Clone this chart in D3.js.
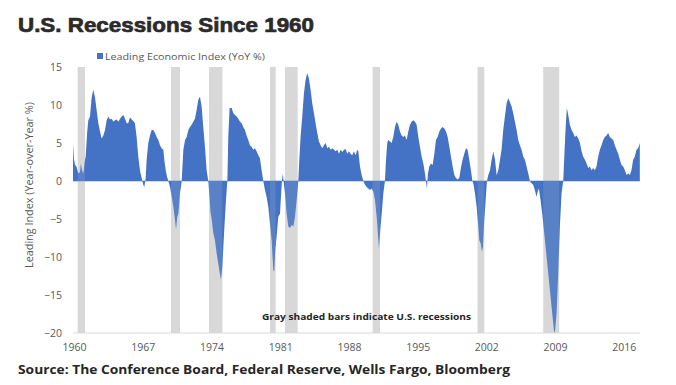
<!DOCTYPE html>
<html>
<head>
<meta charset="utf-8">
<script src="https://cdn.jsdelivr.net/npm/d3@7"></script>
<style>
  html, body { margin: 0; padding: 0; background: #fff; }
  svg { display: block; }
</style>
</head>
<body>
<svg id="chart" width="676" height="385"></svg>
<script>
// ---- Data ----
const years = [
  1960.00,1960.10,1960.22,1960.35,1960.54,1960.71,1960.80,1960.92,1961.05,1961.22,1961.29,1961.45,1961.56,1961.73,1961.90,
  1962.07,1962.24,1962.41,1962.58,1962.75,1962.92,1963.09,1963.26,1963.43,1963.60,1963.77,1963.94,1964.11,1964.28,1964.45,
  1964.62,1964.79,1964.96,1965.13,1965.30,1965.47,1965.63,1965.80,1965.97,1966.14,1966.31,1966.48,1966.65,1966.82,1966.99,
  1967.16,1967.26,1967.40,1967.50,1967.67,1967.84,1968.01,1968.18,1968.35,1968.52,1968.69,1968.86,1969.03,1969.20,1969.30,
  1969.44,1969.57,1969.71,1969.88,1970.05,1970.22,1970.39,1970.49,1970.62,1970.73,1970.90,1971.07,1971.24,1971.41,1971.58,
  1971.75,1971.91,1972.08,1972.25,1972.42,1972.59,1972.76,1972.93,1973.10,1973.27,1973.44,1973.61,1973.78,1973.90,1974.00,
  1974.12,1974.29,1974.46,1974.63,1974.90,1975.07,1975.21,1975.38,1975.58,1975.72,1975.82,1975.95,1976.16,1976.33,1976.50,
  1976.67,1976.84,1977.01,1977.17,1977.34,1977.51,1977.68,1977.85,1978.02,1978.19,1978.36,1978.53,1978.70,1978.87,1979.04,
  1979.21,1979.38,1979.55,1979.72,1979.89,1980.06,1980.23,1980.40,1980.50,1980.60,1980.74,1980.91,1981.08,1981.18,1981.28,
  1981.38,1981.45,1981.59,1981.76,1981.93,1982.10,1982.27,1982.44,1982.61,1982.78,1982.95,1983.05,1983.18,1983.35,1983.52,
  1983.69,1983.86,1984.03,1984.20,1984.37,1984.54,1984.71,1984.88,1985.05,1985.22,1985.39,1985.56,1985.73,1985.90,1986.07,
  1986.24,1986.41,1986.58,1986.75,1986.92,1987.09,1987.26,1987.43,1987.60,1987.77,1987.93,1988.10,1988.27,1988.44,1988.61,
  1988.78,1988.95,1989.06,1989.23,1989.40,1989.57,1989.74,1989.91,1990.08,1990.25,1990.42,1990.59,1990.76,1990.93,1991.10,
  1991.16,1991.27,1991.44,1991.61,1991.77,1991.88,1992.01,1992.11,1992.28,1992.45,1992.62,1992.79,1992.96,1993.13,1993.30,
  1993.47,1993.64,1993.81,1993.98,1994.15,1994.32,1994.49,1994.66,1994.83,1995.00,1995.17,1995.34,1995.51,1995.68,1995.85,
  1995.95,1996.05,1996.15,1996.29,1996.46,1996.63,1996.80,1996.97,1997.14,1997.31,1997.48,1997.65,1997.82,1997.99,1998.16,
  1998.33,1998.50,1998.67,1998.84,1999.01,1999.17,1999.34,1999.51,1999.68,1999.85,2000.02,2000.19,2000.36,2000.53,2000.67,
  2000.80,2000.94,2001.11,2001.28,2001.38,2001.52,2001.65,2001.75,2001.89,2002.03,2002.16,2002.30,2002.47,2002.64,2002.81,
  2002.98,2003.15,2003.32,2003.49,2003.65,2003.82,2003.99,2004.16,2004.33,2004.50,2004.67,2004.84,2005.01,2005.18,2005.35,
  2005.52,2005.69,2005.86,2006.03,2006.20,2006.37,2006.53,2006.70,2006.87,2007.04,2007.21,2007.32,2007.45,2007.62,2007.79,
  2007.96,2008.13,2008.30,2008.47,2008.64,2008.81,2008.98,2009.08,2009.25,2009.42,2009.59,2009.76,2009.93,2010.10,2010.20,
  2010.30,2010.44,2010.61,2010.78,2010.95,2011.12,2011.29,2011.46,2011.63,2011.80,2011.97,2012.14,2012.31,2012.48,2012.64,
  2012.81,2012.98,2013.15,2013.32,2013.49,2013.66,2013.83,2014.00,2014.17,2014.34,2014.51,2014.68,2014.85,2015.02,2015.19,
  2015.36,2015.53,2015.70,2015.87,2016.04,2016.21,2016.38,2016.55,2016.72,2016.88,2017.05,2017.22,2017.39,2017.56,2017.73
];
const leiYoY = [
  5.0,2.8,2.1,1.9,1.0,1.2,2.3,1.4,1.0,2.8,3.2,6.5,8.0,8.5,11.0,
  12.0,11.0,9.3,7.6,6.5,5.6,6.0,6.7,8.0,8.5,8.1,8.2,7.8,8.0,8.1,
  7.8,8.2,8.5,8.7,8.2,7.6,7.6,8.4,8.1,7.9,7.6,5.8,3.2,1.4,0.4,
  -0.5,-0.8,0.3,2.8,5.0,6.0,6.7,6.7,6.3,5.8,5.4,4.7,4.3,4.1,2.8,
  1.4,0.6,0.0,-0.8,-2.0,-3.4,-5.1,-6.4,-4.7,-4.3,-1.6,0.0,4.1,5.4,5.8,
  6.7,7.1,7.4,7.8,8.2,9.3,10.7,11.1,9.8,7.1,4.5,1.4,0.0,-2.0,-4.0,
  -5.0,-6.8,-7.8,-9.5,-11.7,-13.0,-11.3,-7.0,-2.5,0.0,6.0,9.6,9.6,8.9,8.7,
  8.5,8.2,7.8,7.6,7.1,6.7,6.0,5.4,4.7,4.5,4.1,4.3,3.9,3.4,3.0,
  1.4,0.0,-1.2,-2.1,-3.4,-5.6,-7.8,-11.7,-11.9,-9.1,-7.3,-4.7,-4.3,-2.1,0.0,
  1.0,0.0,-1.6,-4.3,-6.0,-6.2,-5.8,-6.0,-4.7,-2.5,0.0,2.8,5.8,8.5,11.5,
  13.3,14.2,13.5,12.0,10.2,8.9,7.6,6.3,5.2,4.7,4.3,4.7,5.0,4.3,4.5,
  4.1,4.3,4.1,3.9,4.1,3.6,4.1,3.8,4.1,4.2,3.6,3.9,3.6,3.4,3.9,
  3.4,4.1,3.9,1.9,0.8,0.0,-0.5,-0.8,-1.0,-1.2,-1.0,-1.4,-2.5,-4.7,-7.8,
  -8.9,-6.9,-4.3,-1.6,0.0,2.8,5.0,5.4,5.2,5.0,5.8,7.1,7.8,7.4,6.5,
  6.0,5.8,6.0,5.4,6.5,7.4,7.8,8.0,7.8,7.4,5.8,4.5,3.2,2.3,1.0,
  0.0,-1.0,1.0,1.9,2.3,2.1,3.6,5.4,5.8,6.5,6.9,7.1,6.9,6.5,5.8,
  4.5,3.2,1.9,0.8,0.4,0.2,0.4,1.7,2.8,3.6,4.3,4.1,2.8,1.4,0.1,
  -0.5,-1.6,-3.4,-6.0,-7.8,-8.2,-9.3,-8.7,-5.1,-2.5,0.0,0.8,1.4,2.8,3.9,
  2.8,0.8,1.4,2.8,4.1,6.7,8.5,10.2,10.9,10.4,9.8,8.9,7.8,6.7,5.4,
  4.7,4.1,3.2,2.8,1.9,1.0,0.0,-0.3,-0.5,-1.2,-2.1,-1.4,-1.0,-2.5,-4.3,
  -6.4,-8.6,-10.8,-13.0,-15.2,-17.4,-19.6,-20.0,-17.4,-12.1,-6.0,-1.6,0.0,5.0,7.6,
  9.6,8.7,7.4,6.7,6.3,5.8,6.0,5.6,5.0,3.9,3.2,2.8,2.3,1.7,1.9,
  1.4,1.7,1.4,1.9,3.2,4.1,4.7,5.4,5.8,6.0,6.3,5.8,5.6,5.4,4.7,
  4.1,3.6,2.8,2.1,1.9,1.4,0.8,1.0,0.8,1.4,2.8,3.2,4.1,4.3,5.0
];
const recessionStart = [1960.48, 1969.98, 1973.85, 1980.06, 1981.59, 1990.52, 2001.21, 2007.89];
const recessionEnd   = [1961.22, 1970.90, 1975.21, 1980.64, 1982.88, 1991.27, 2001.89, 2009.52];
const xTickYears = [1960, 1967, 1974, 1981, 1988, 1995, 2002, 2009, 2016];
const yTicks = [15, 10, 5, 0, -5, -10, -15, -20];

const titleText = "U.S. Recessions Since 1960";
const legendText = "Leading Economic Index (YoY %)";
const yAxisTitle = "Leading Index (Year-over-Year %)";
const noteText = "Gray shaded bars indicate U.S. recessions";
const sourceText = "Source: The Conference Board, Federal Reserve, Wells Fargo, Bloomberg";

// ---- Layout ----
const svg = d3.select("#chart");
const blue = "#4472C4";
const gray = "#D9D9D9";
const textGray = "#595959";

const x = d3.scaleLinear().domain([1960, 2017.75]).range([73, 640]);
const y = d3.scaleLinear().domain([-20, 15]).range([333, 67]);

const data = years.map((t, i) => ({ t, v: leiYoY[i] }));
const recessions = recessionStart.map((s, i) => ({ s, e: recessionEnd[i] }));

// Title
svg.append("text")
  .attr("x", 18).attr("y", 31.5)
  .attr("font-family", "Liberation Sans, Arial, sans-serif")
  .attr("font-weight", "bold")
  .attr("font-size", 21)
  .attr("fill", "#2b2b2b")
  .attr("stroke", "#2b2b2b").attr("stroke-width", 0.7)
  .attr("textLength", 296).attr("lengthAdjust", "spacingAndGlyphs")
  .text(titleText);

// Legend
svg.append("rect")
  .attr("x", 97).attr("y", 53).attr("width", 6).attr("height", 6)
  .attr("fill", blue);
svg.append("text")
  .attr("x", 105).attr("y", 59.5)
  .attr("font-family", "Open Sans, sans-serif")
  .attr("font-size", 9.5)
  .attr("fill", textGray)
  .attr("textLength", 160).attr("lengthAdjust", "spacingAndGlyphs")
  .text(legendText);

// Recession bars (background)
svg.append("g").selectAll("rect").data(recessions).join("rect")
  .attr("x", d => x(d.s)).attr("width", d => x(d.e) - x(d.s))
  .attr("y", y(15)).attr("height", y(-20) - y(15))
  .attr("fill", gray);

// Bottom axis line
svg.append("line")
  .attr("x1", x(1960)).attr("x2", x(2017.75))
  .attr("y1", y(-20)).attr("y2", y(-20))
  .attr("stroke", "#D9D9D9").attr("stroke-width", 1);

// Area
const area = d3.area()
  .x(d => x(d.t))
  .y0(y(0))
  .y1(d => y(d.v));
svg.append("path")
  .datum(data)
  .attr("d", area)
  .attr("fill", blue);

// zero line
svg.append("line")
  .attr("x1", x(1960)).attr("x2", x(2017.75))
  .attr("y1", y(0)).attr("y2", y(0))
  .attr("stroke", blue).attr("stroke-opacity", 0.55).attr("stroke-width", 1);

// Recession bars overlay (lightens area inside bars)
svg.append("g").selectAll("rect").data(recessions).join("rect")
  .attr("x", d => x(d.s)).attr("width", d => x(d.e) - x(d.s))
  .attr("y", y(15)).attr("height", y(-20) - y(15))
  .attr("fill", gray).attr("fill-opacity", 0.15);

// Y axis labels
const yAxis = d3.axisLeft(y).tickValues(yTicks).tickSize(0).tickPadding(0).tickFormat(d3.format("d"));
const yg = svg.append("g").attr("transform", "translate(62,0)").call(yAxis);
yg.select(".domain").remove();
yg.selectAll("text")
  .attr("font-family", "Open Sans, sans-serif")
  .attr("font-size", 10.5)
  .attr("fill", textGray);

// X axis labels
const xAxis = d3.axisBottom(x).tickValues(xTickYears).tickSize(0).tickPadding(0).tickFormat(d3.format("d"));
const xg = svg.append("g").attr("transform", `translate(1,${y(-20) + 11})`).call(xAxis);
xg.select(".domain").remove();
xg.selectAll("text")
  .attr("font-family", "Open Sans, sans-serif")
  .attr("font-size", 10.5)
  .attr("fill", textGray);

// Y axis title
svg.append("text")
  .attr("transform", "translate(33,185) rotate(-90)")
  .attr("text-anchor", "middle")
  .attr("font-family", "Open Sans, sans-serif")
  .attr("font-size", 10)
  .attr("fill", textGray)
  .attr("textLength", 166).attr("lengthAdjust", "spacingAndGlyphs")
  .text(yAxisTitle);

// Note
svg.append("text")
  .attr("x", 262).attr("y", 320)
  .attr("font-family", "Open Sans, sans-serif")
  .attr("font-weight", "bold")
  .attr("font-size", 9.5)
  .attr("fill", "#262626")
  .attr("textLength", 209).attr("lengthAdjust", "spacingAndGlyphs")
  .text(noteText);

// Source
svg.append("text")
  .attr("x", 18).attr("y", 374)
  .attr("font-family", "Open Sans, sans-serif")
  .attr("font-weight", "bold")
  .attr("font-size", 12.5)
  .attr("fill", "#262626")
  .attr("textLength", 492).attr("lengthAdjust", "spacingAndGlyphs")
  .text(sourceText);
</script>
</body>
</html>
